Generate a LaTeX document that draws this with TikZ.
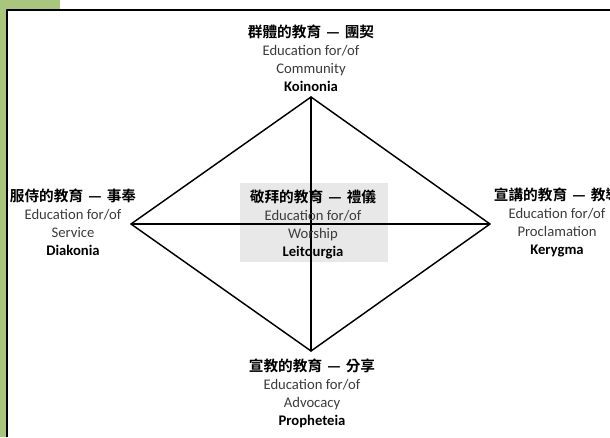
\documentclass[tikz,border=0pt]{standalone}
\usepackage{fontspec}
\setmainfont{Carlito}
\newfontfamily\cjk{Noto Sans CJK TC}[BoldFont={Noto Sans CJK TC Bold}]
\definecolor{leafgreen}{RGB}{170,198,126}
\definecolor{boxgray}{RGB}{232,232,232}
\definecolor{textgray}{RGB}{60,60,60}
\newcommand{\zh}[2]{{\cjk\bfseries\color{black}#1\hspace{0.35em}—\hspace{0.35em}#2}}
\begin{document}
\begin{tikzpicture}[x=0.75pt, y=-0.75pt, line join=round, line cap=round,
  font=\fontsize{11}{13.5}\selectfont]
\tikzset{block/.style={align=center, inner sep=0pt, text=textgray},
  edge/.style={line width=1.1pt}}
\useasboundingbox (0,0) rectangle (610,437);
% frame
\fill[leafgreen] (0,0) rectangle (60,9.5);
\fill[leafgreen] (0,0) rectangle (6,437);
\draw[line width=1.5pt, line cap=butt] (6.5,437) |- (610,9.5);
% grey box in the middle
\fill[boxgray] (240,183) rectangle (388,262);
% vertices
\coordinate (top) at (311,97);
\coordinate (left) at (131,224);
\coordinate (right) at (490,224);
\coordinate (bottom) at (311,351);
\draw[edge] (top) -- (right) -- (bottom) -- (left) -- cycle;
\draw[edge] (top) -- (bottom);
\draw[edge] (left) -- (right);
% labels
\node[block] (koinonia) at (311,58) {\zh{群體的教育}{團契}\\Education for/of\\Community\\\textbf{\color{black}Koinonia}};
\node[block] (diakonia) at (73,222) {\zh{服侍的教育}{事奉}\\Education for/of\\Service\\\textbf{\color{black}Diakonia}};
\node[block] (kerygma) at (557,222) {\zh{宣講的教育}{教導}\\Education for/of\\Proclamation\\\textbf{\color{black}Kerygma}};
\node[block] (leitourgia) at (313,224) {\zh{敬拜的教育}{禮儀}\\Education for/of\\Worship\\\textbf{\color{black}Leitourgia}};
\node[block] (propheteia) at (312,393) {\zh{宣教的教育}{分享}\\Education for/of\\Advocacy\\\textbf{\color{black}Propheteia}};
\end{tikzpicture}
\end{document}
